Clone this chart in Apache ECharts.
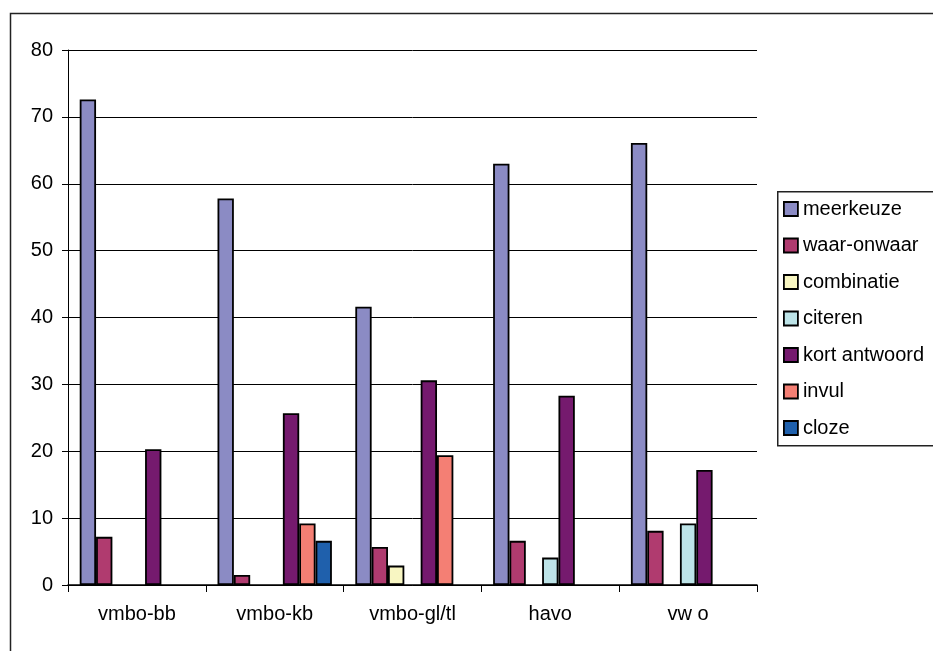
<!DOCTYPE html>
<html>
<head>
<meta charset="utf-8">
<script src="https://cdn.jsdelivr.net/npm/echarts@6/dist/echarts.min.js"></script>
<style>
  html, body { margin: 0; padding: 0; background: #fff; }
  #chart { width: 933px; height: 651px; }
</style>
</head>
<body>
<div id="chart"></div>
<script>
// School levels along the x axis
const categories = ['vmbo-bb', 'vmbo-kb', 'vmbo-gl/tl', 'havo', 'vw o'];

// Share of each question type per level (%); null = no questions of that type
const meerkeuze    = [72.6, 57.8, 41.6, 63.0, 66.1];
const waarOnwaar   = [7.2, 1.5, 5.7, 6.6, 8.1];
const combinatie   = [null, null, 2.9, null, null];
const citeren      = [null, null, null, 4.1, 9.2];
const kortAntwoord = [20.3, 25.7, 30.6, 28.3, 17.2];
const invul        = [null, 9.2, 19.4, null, null];
const cloze        = [null, 6.6, null, null, null];

const yTicks = [0, 10, 20, 30, 40, 50, 60, 70, 80];

const seriesDefs = [
  { name: 'meerkeuze',     data: meerkeuze,    color: '#8B8BC4' },
  { name: 'waar-onwaar',   data: waarOnwaar,   color: '#B03B6F' },
  { name: 'combinatie',    data: combinatie,   color: '#F8F6C2' },
  { name: 'citeren',       data: citeren,      color: '#BDE4E8' },
  { name: 'kort antwoord', data: kortAntwoord, color: '#751A6E' },
  { name: 'invul',         data: invul,        color: '#F47F74' },
  { name: 'cloze',         data: cloze,        color: '#1F60AC' }
];

const font = '"Liberation Sans", Arial, sans-serif';
const chart = echarts.init(document.getElementById('chart'), null, { renderer: 'canvas' });

chart.setOption({
  animation: false,
  backgroundColor: '#fff',
  textStyle: { fontFamily: font },
  graphic: [
    // outer frame of the chart area
    { type: 'rect', left: 8, top: 11, shape: { width: 960, height: 680 },
      style: { fill: 'none', stroke: '#222', lineWidth: 1.5 }, silent: true, z: -1 },
    // legend frame
    { type: 'rect', left: 777, top: 191, shape: { width: 200, height: 254 },
      style: { fill: '#fff', stroke: '#222', lineWidth: 1.5 }, silent: true, z: -1 }
  ],
  legend: {
    orient: 'vertical',
    left: 783,
    top: 199,
    padding: 0,
    itemWidth: 14,
    itemHeight: 14,
    itemGap: 16.5,
    icon: 'rect',
    textStyle: { fontFamily: font, fontSize: 20, color: '#000' },
    data: seriesDefs.map(s => ({
      name: s.name,
      itemStyle: { color: s.color, borderColor: '#000', borderWidth: 1.8 }
    }))
  },
  grid: { left: 68, top: 50, right: 176, bottom: 66, containLabel: false },
  xAxis: {
    type: 'category',
    data: categories,
    axisLine: { lineStyle: { color: '#000', width: 1.5 } },
    axisTick: { show: true, length: 7, lineStyle: { color: '#000', width: 1 } },
    axisLabel: { fontFamily: font, fontSize: 20, color: '#000', margin: 19 },
    splitLine: { show: false }
  },
  yAxis: {
    type: 'value',
    min: yTicks[0],
    max: yTicks[yTicks.length - 1],
    interval: 10,
    axisLine: { show: true, lineStyle: { color: '#000', width: 1 } },
    axisTick: { show: true, length: 6, lineStyle: { color: '#000', width: 1 } },
    axisLabel: { fontFamily: font, fontSize: 20, color: '#000', margin: 15 },
    splitLine: { show: true, lineStyle: { color: '#000', width: 1 } }
  },
  series: seriesDefs.map(s => ({
    name: s.name,
    type: 'bar',
    data: s.data,
    barGap: '0%',
    barCategoryGap: '17%',
    itemStyle: { color: s.color, borderColor: '#000', borderWidth: 1.8 }
  }))
});
</script>
</body>
</html>
